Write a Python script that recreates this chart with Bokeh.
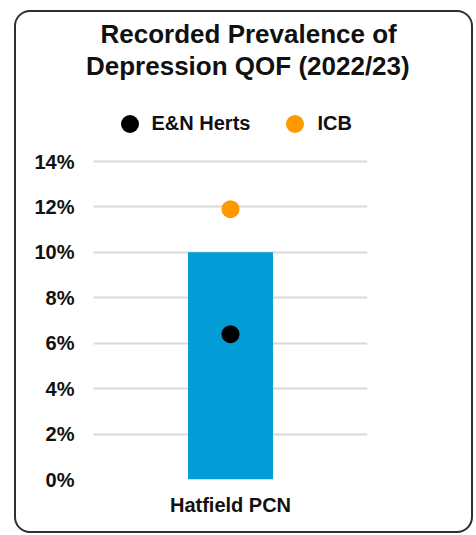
from bokeh.plotting import figure
from bokeh.models import Range1d, FactorRange, NumeralTickFormatter, FixedTicker, Title
from bokeh.embed import file_html
from bokeh.resources import INLINE

# ---- data ----
categories = ["Hatfield PCN"]
pcn_values = [0.100]
en_herts_values = [0.064]
icb_values = [0.119]
y_ticks = [0, 0.02, 0.04, 0.06, 0.08, 0.10, 0.12, 0.14]
title_lines = ["Recorded Prevalence of", "Depression QOF (2022/23)"]
series_names = ["E&N Herts", "ICB"]

FONT = "Liberation Sans"
BAR = "#029cd6"
ORANGE = "#ff9900"
GRID = "#d9d9d9"
TXT = "#111111"

# frame: 399 px tall, the 0..14% band uses the lower 318 px; the legend sits above it
y_top = 0.14 * 399 / 318

p = figure(x_range=FactorRange(*categories, range_padding=0), y_range=Range1d(0, y_top),
           width=455, height=519, output_backend="svg", toolbar_location=None,
           min_border_left=77, min_border_right=108, min_border_top=68, min_border_bottom=56)
p.styles = {"margin-left": "14px", "margin-top": "10px", "box-sizing": "content-box",
            "border": "2px solid #2f2f2f", "border-radius": "16px"}
p.border_fill_color = None
p.background_fill_color = None
p.outline_line_color = None

p.vbar(x=categories, top=pcn_values, width=0.31, color=BAR, line_color=None)
p.scatter(x=categories, y=en_herts_values, size=18, color="black", line_color=None,
          legend_label=series_names[0])
p.scatter(x=categories, y=icb_values, size=18, color=ORANGE, line_color=None,
          legend_label=series_names[1])

# axes
p.yaxis.ticker = FixedTicker(ticks=y_ticks)
p.yaxis.formatter = NumeralTickFormatter(format="0%")
for ax in (p.xaxis, p.yaxis):
    ax.axis_line_color = None
    ax.major_tick_line_color = None
    ax.minor_tick_line_color = None
    ax.major_tick_out = 0
    ax.major_tick_in = 0
    ax.major_label_text_font = FONT
    ax.major_label_text_font_style = "bold"
    ax.major_label_text_color = TXT
    ax.major_label_text_font_size = "20px"
p.yaxis.major_label_standoff = 19
p.xaxis.major_label_standoff = 14
p.xgrid.grid_line_color = None
p.ygrid.grid_line_color = GRID
p.ygrid.grid_line_width = 2

# legend
lg = p.legend[0]
lg.location = (13.5, 333.5)
lg.orientation = "horizontal"
lg.glyph_width = 45
lg.glyph_height = 45
lg.label_standoff = 0
lg.spacing = 22
lg.padding = 0
lg.margin = 0
lg.border_line_color = None
lg.background_fill_alpha = 0
lg.label_text_font = FONT
lg.label_text_font_style = "bold"
lg.label_text_font_size = "20px"
lg.label_text_color = TXT

# title lines (second line added first: it sits nearest the frame)
offsets = [7, -7.5]
standoffs = [0, 0]
for t, off, so in zip(reversed(title_lines), reversed(offsets), reversed(standoffs)):
    p.add_layout(Title(text=t, align="left", offset=off, standoff=so, text_font=FONT,
                       text_font_style="bold", text_font_size="26px", text_color=TXT), "above")

open("out.html", "w").write(file_html(p, INLINE))
